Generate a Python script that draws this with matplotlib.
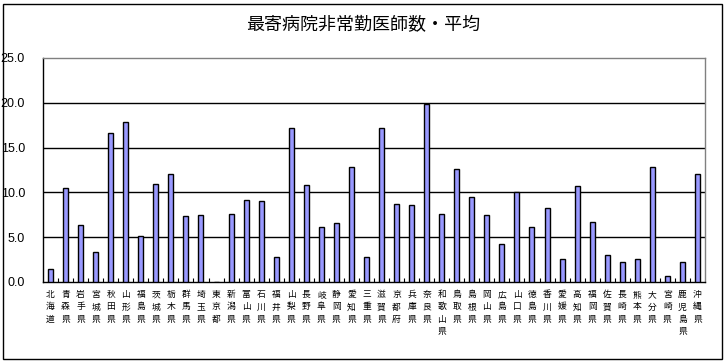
import matplotlib
matplotlib.use("Agg")
import matplotlib.pyplot as plt
from matplotlib.patches import Rectangle
from matplotlib.ticker import FixedLocator

plt.rcParams['font.family'] = ['Noto Sans CJK JP', 'DejaVu Sans']

title = "最寄病院非常勤医師数・平均"
prefectures = ["北海道", "青森県", "岩手県", "宮城県", "秋田県", "山形県", "福島県", "茨城県",
               "栃木県", "群馬県", "埼玉県", "東京都", "新潟県", "富山県", "石川県", "福井県",
               "山梨県", "長野県", "岐阜県", "静岡県", "愛知県", "三重県", "滋賀県", "京都府",
               "兵庫県", "奈良県", "和歌山県", "鳥取県", "島根県", "岡山県", "広島県", "山口県",
               "徳島県", "香川県", "愛媛県", "高知県", "福岡県", "佐賀県", "長崎県", "熊本県",
               "大分県", "宮崎県", "鹿児島県", "沖縄県"]
values = [1.45, 10.5, 6.36, 3.35, 16.63, 17.86, 5.13, 10.94,
          12.05, 7.37, 7.48, 0.0, 7.59, 9.15, 9.04, 2.79,
          17.19, 10.83, 6.14, 6.58, 12.83, 2.79, 17.19, 8.71,
          8.59, 19.87, 7.59, 12.61, 9.49, 7.48, 4.24, 10.04,
          6.14, 8.26, 2.57, 10.71, 6.70, 3.01, 2.23, 2.57,
          12.83, 0.67, 2.23, 12.05]
yticks = [0, 5, 10, 15, 20, 25]

W, H = 727, 362
fig = plt.figure(figsize=(W / 100, H / 100), dpi=100)
ax = fig.add_axes([43 / W, 1 - 282 / H, (705 - 43) / W, (282 - 58) / H])

x = list(range(len(prefectures)))
ax.bar(x, values, width=0.33, color="#9999FF", edgecolor="black", linewidth=1.0, zorder=3)

ax.set_xlim(-0.5, len(prefectures) - 0.5)
ax.set_ylim(0, 25)
ax.set_yticks(yticks)
ax.set_yticklabels([f"{v:.1f}" for v in yticks], fontsize=9, family=['Liberation Sans', 'DejaVu Sans'])
ax.tick_params(axis='y', length=0, pad=13)

ax.set_xticks(x)
ax.set_xticklabels(["\n".join(p) for p in prefectures], fontsize=6.3, linespacing=1.45, va='top')
ax.tick_params(axis='x', which='major', length=0, pad=6)
ax.xaxis.set_minor_locator(FixedLocator([i + 0.5 for i in range(len(prefectures) - 1)]))
ax.tick_params(axis='x', which='minor', direction='in', length=3, width=0.8, color='black')

for v in yticks[1:-1]:
    ax.axhline(v, color='black', linewidth=1.0, zorder=1)

for s in ['top', 'right']:
    ax.spines[s].set_color('#808080')
    ax.spines[s].set_linewidth(1.0)
for s in ['left', 'bottom']:
    ax.spines[s].set_color('black')
    ax.spines[s].set_linewidth(1.0)

fig.text(363 / W, 1 - 25 / H, title, ha='center', va='center', fontsize=13)

fig.patches.append(Rectangle((3 / W, 1 - 358.5 / H), (722 - 3) / W, (358.5 - 4) / H,
                             transform=fig.transFigure, fill=False, edgecolor='black', linewidth=1.0))

fig.savefig("out.png", dpi=100)
